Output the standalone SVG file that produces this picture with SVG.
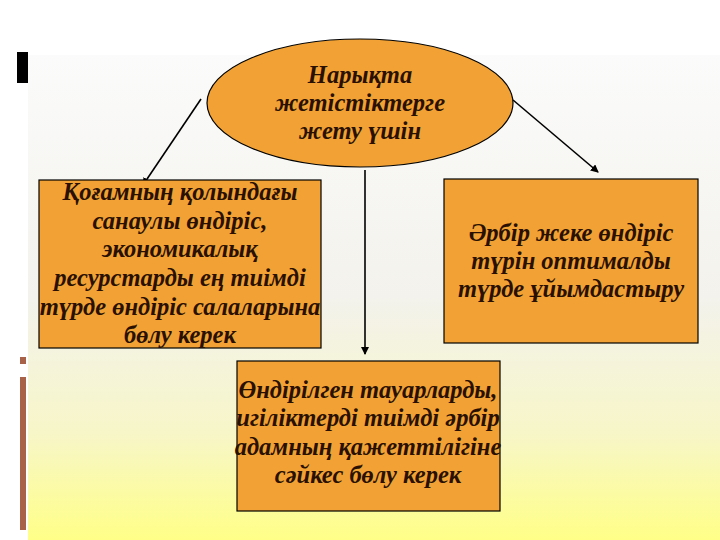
<svg xmlns="http://www.w3.org/2000/svg" width="720" height="540" viewBox="0 0 720 540">
<defs>
<linearGradient id="bg" x1="0" y1="55" x2="0" y2="540" gradientUnits="userSpaceOnUse">
<stop offset="0" stop-color="#fbfbfb"/>
<stop offset="0.5" stop-color="#f3f2ec"/>
<stop offset="0.78" stop-color="#f7f6c8"/>
<stop offset="1" stop-color="#ffff88"/>
</linearGradient>
<marker id="ah" markerWidth="8" markerHeight="8" refX="7" refY="4" orient="auto" markerUnits="userSpaceOnUse">
<path d="M0,0 L8,4 L0,8 Z" fill="#000"/>
</marker>
<style>
.box{fill:#f2a234;stroke:#000;stroke-width:1.2}
.t{font-family:"Liberation Serif","Times New Roman",serif;font-weight:bold;font-style:italic;font-size:24.5px;fill:#2a1000;text-anchor:middle}
.c{stroke:#000;stroke-width:1.6;fill:none;marker-end:url(#ah)}
</style>
</defs>
<rect x="0" y="0" width="720" height="540" fill="#ffffff"/>
<rect x="28" y="55" width="692" height="485" fill="url(#bg)"/>
<rect x="17" y="52" width="11" height="31" fill="#000"/>
<rect x="20" y="357" width="6" height="7" fill="#a8624a"/>
<rect x="20" y="377" width="6" height="153" fill="#a8624a"/>
<g id="connectors">
<line class="c" x1="201" y1="99" x2="143" y2="185"/>
<line class="c" x1="365" y1="170" x2="365" y2="354"/>
<line class="c" x1="513" y1="100" x2="598" y2="172"/>
</g>
<g id="top">
<ellipse class="box" cx="360" cy="103" rx="153" ry="64"/>
<text class="t" x="360" y="83">Нарықта</text>
<text class="t" x="360" y="111">жетістіктерге</text>
<text class="t" x="360" y="139">жету үшін</text>
</g>
<g id="left">
<rect class="box" x="39" y="180" width="282" height="168"/>
<text class="t" x="180" y="200">Қоғамның қолындағы</text>
<text class="t" x="180" y="229">санаулы өндіріс,</text>
<text class="t" x="180" y="257">экономикалық</text>
<text class="t" x="180" y="286">ресурстарды ең тиімді</text>
<text class="t" x="180" y="315">түрде өндіріс салаларына</text>
<text class="t" x="180" y="343">бөлу керек</text>
</g>
<g id="right">
<rect class="box" x="444" y="179" width="254" height="164"/>
<text class="t" x="571" y="241">Әрбір жеке өндіріс</text>
<text class="t" x="571" y="269">түрін оптималды</text>
<text class="t" x="571" y="297">түрде ұйымдастыру</text>
</g>
<g id="bottom">
<rect class="box" x="237" y="361" width="263" height="150"/>
<text class="t" x="368" y="398">Өндірілген тауарларды,</text>
<text class="t" x="368" y="426">игіліктерді тиімді әрбір</text>
<text class="t" x="368" y="455">адамның қажеттілігіне</text>
<text class="t" x="368" y="483">сәйкес бөлу керек</text>
</g>
</svg>
